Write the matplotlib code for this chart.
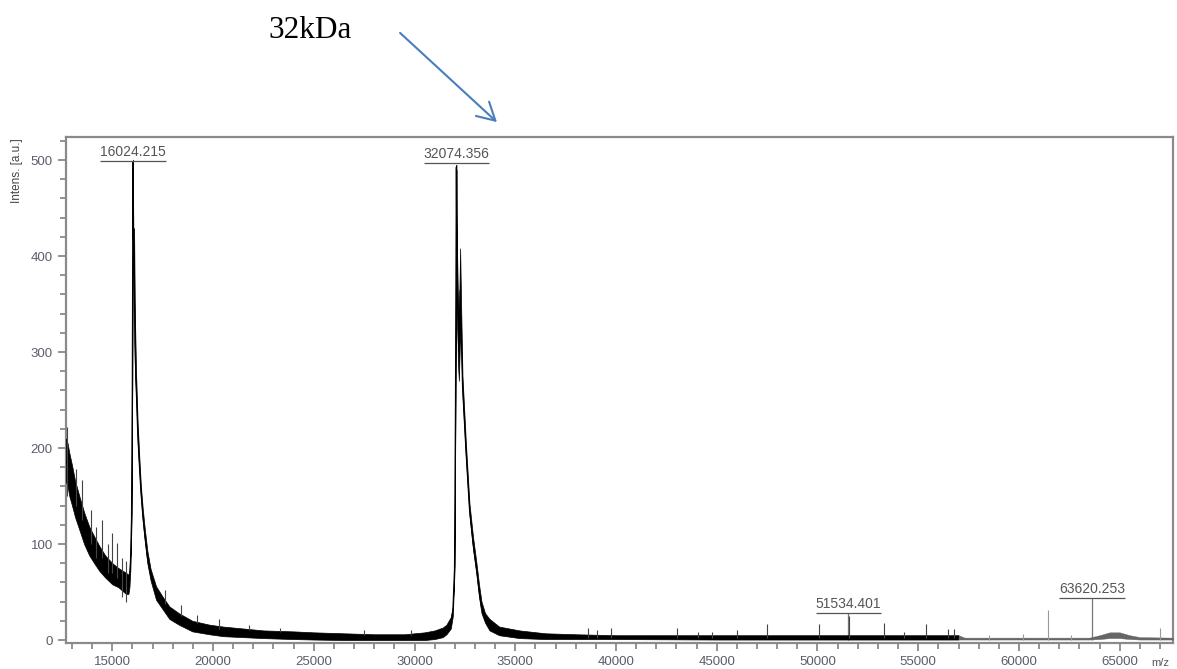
import numpy as np
import matplotlib
matplotlib.use('Agg')
import matplotlib.pyplot as plt

# spectrum: m/z, lower and upper edge of the noisy trace
mz = [12701, 12780, 12865, 13000, 13150, 13361, 13600, 13858, 14100, 14355, 14650, 15000,
      15300, 15680, 15800, 15850, 15900, 15950, 15990, 16024, 16040, 16080, 16120, 16177,
      16260, 16341, 16420, 16505, 16600, 16738, 16900, 17170, 17500, 17830, 18300, 18972,
      19816, 20500, 21500, 22500, 24000, 25000, 26500, 28000, 29500, 30500, 31000, 31400,
      31584, 31800, 31900, 31982, 32030, 32074, 32090, 32150, 32200, 32263, 32320, 32380,
      32550, 32727, 32900, 33075, 33200, 33323, 33500, 33720, 34200, 35210, 36500, 38000,
      40000, 45000, 50000, 55000, 57000, 57300, 60000, 63500, 64000, 64500, 65000, 65500,
      66000, 67646]
lo = [165, 160, 150, 140, 128, 115, 100, 88, 80, 72, 65, 58,
      55, 48, 48, 55, 75, 120, 260, 495, 420, 360, 280, 255,
      205, 175, 148, 125, 105, 80, 62, 42, 32, 22, 16, 9,
      6, 4, 3, 2, 1, 0.5, 0, 0, 0, 0, 1, 3,
      6, 12, 25, 70, 240, 490, 420, 290, 270, 320, 300, 255,
      190, 130, 95, 68, 45, 28, 18, 10, 5, 2, 1, 1,
      1, 0.5, 0.5, 0.5, 0.5, 0.5, 0.5, 0.5, 1, 2, 2, 1,
      0.5, 0.5]
hi = [210, 205, 195, 182, 166, 150, 133, 118, 108, 98, 88, 80,
      75, 70, 68, 72, 90, 130, 270, 500, 430, 428, 340, 280,
      225, 190, 160, 138, 118, 93, 74, 56, 45, 35, 28, 20,
      16, 14, 12, 10, 9, 8, 7, 6, 6, 8, 10, 13,
      16, 24, 35, 78, 250, 495, 430, 360, 330, 408, 340, 275,
      205, 142, 108, 80, 58, 40, 28, 22, 14, 10, 7, 6,
      5, 5, 5, 5, 5, 2.5, 2.5, 2.5, 5, 8, 8, 5,
      3, 2.5]

# noise spikes: position, foot, top
spike_mz = [12760, 13198, 13510, 13942, 14200, 14503, 14800, 15000, 15248, 15500, 15700,
            17600, 18400, 19200, 20300, 21800, 23300, 27500, 29800, 38634, 39081, 39727,
            43004, 44047, 44742, 45983, 47473, 50054, 51544, 53282, 54300, 55367, 56460,
            56760]
spike_lo = [150, 140, 125, 100, 85, 85, 70, 70, 65, 45, 40, 38, 25, 18, 12, 10, 8, 5, 5,
            2, 2, 2, 2, 2, 2, 2, 2, 2, 2, 2, 2, 2, 2, 2]
spike_hi = [222, 178, 167, 135, 118, 125, 100, 111, 101, 85, 82, 52, 36, 26, 22, 16, 13,
            10, 10, 13, 10, 13, 13, 8, 8, 10, 17, 17, 25, 18, 8, 17, 11, 12]
light_mz = [58500, 60200, 61425, 62600, 67000]
light_hi = [5, 6, 31, 5, 13]

# peak labels
peak_mz = [16024.215, 32074.356, 51534.401, 63620.253]
peak_lab = ['16024.215', '32074.356', '51534.401', '63620.253']
lab_y = [499, 497, 28, 44]

fig = plt.figure(figsize=(11.77, 6.69), dpi=100)
ax = fig.add_axes([66/1177, 26/669, (1173-66)/1177, (643-137)/669])

mzv = np.array(mz)
dark = mzv <= 57000
light = mzv >= 57000
ax.fill_between(mzv, lo, hi, where=dark, color='black', lw=0.5, zorder=3)
ax.fill_between(mzv, lo, hi, where=light, color='#666666', lw=0.3, zorder=3)
mid = (np.array(lo) + np.array(hi)) / 2
ax.plot(mzv[dark], mid[dark], color='black', lw=0.8, zorder=3)
ax.vlines(spike_mz, spike_lo, spike_hi, color='#444444', lw=0.8, zorder=3)
ax.vlines(light_mz, 0, light_hi, color='#999999', lw=0.8, zorder=3)

gray = '#555555'
for i, (m, t, ly) in enumerate(zip(peak_mz, peak_lab, lab_y)):
    if i >= 2:
        ax.vlines(m, 0, ly, color='#777777', lw=0.9, zorder=2)
    ax.hlines(ly, m - 1620, m + 1620, color=gray, lw=0.9, zorder=4)
    ax.text(m, ly + 2, t, ha='center', va='bottom', fontsize=10, color=gray,
            family='Liberation Sans', zorder=4)

ax.set_xlim(12701, 67646)
ax.set_ylim(-3.1, 524)
ax.set_xticks(range(15000, 65001, 5000))
ax.set_xticks(range(13000, 67001, 1000), minor=True)
ax.set_yticks(range(0, 501, 100))
ax.set_yticks(range(0, 521, 20), minor=True)
tc = '#5a5e68'
ax.tick_params(which='both', direction='out', color='#808080', width=1.2, labelcolor=tc,
               labelsize=9.5)
ax.tick_params(which='major', length=6)
ax.tick_params(which='minor', length=4.5)
for lab in ax.get_xticklabels() + ax.get_yticklabels():
    lab.set_family('Liberation Sans')
for s in ax.spines.values():
    s.set_color('#8a8a8a')
    s.set_linewidth(1.6)

fig.text(17/1177, 1 - 171/669, 'Intens. [a.u.]', rotation=90, ha='center', va='center',
         fontsize=8.5, color='#444444', family='Liberation Sans')
fig.text(1160/1177, 1 - 663/669, 'm/z', ha='center', va='center', fontsize=8,
         color='#555555', family='Liberation Sans')

fig.text(268/1177, 1 - 30/669, '32kDa', ha='left', va='center', fontsize=22.5,
         family='Liberation Serif', color='black')
fig.patches.append(matplotlib.patches.FancyArrowPatch(
    (398/1177, 1 - 31/669), (499/1177, 1 - 124/669), transform=fig.transFigure,
    arrowstyle='->,head_length=0.9,head_width=0.5', mutation_scale=14,
    color='#4a7ebb', lw=1.5))

fig.savefig('out.png', dpi=100)
